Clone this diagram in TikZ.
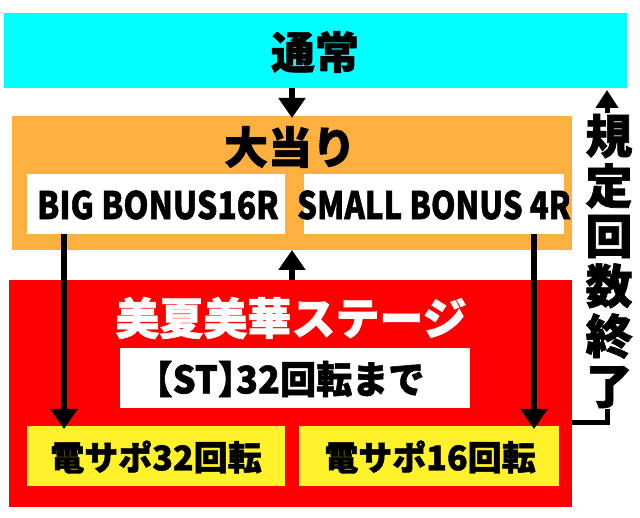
\documentclass[tikz,border=0pt]{standalone}
\usepackage{fontspec}
\setmainfont{Noto Sans CJK JP}[BoldFeatures={FakeBold=1.4}]
\usetikzlibrary{arrows.meta,calc}
\definecolor{cyanbox}{HTML}{00FFFF}
\definecolor{orangebox}{HTML}{FBB040}
\definecolor{redbox}{HTML}{FF0000}
\definecolor{yellowbox}{HTML}{FFF22A}
\newcommand{\hsq}[2]{\scalebox{#1}[1]{#2}}
\begin{document}
\begin{tikzpicture}[x=1pt,y=-1pt,
  box/.style={rectangle,inner sep=0pt,outer sep=0pt,draw=none},
  arr/.style={line width=5.5pt,-{Triangle[width=26pt,length=20pt]}},
  big/.style={font=\fontsize{44}{46}\selectfont\bfseries},
  mid/.style={font=\fontsize{38}{40}\selectfont\bfseries},
  lat/.style={font=\fontsize{38}{40}\selectfont\bfseries},
  small/.style={font=\fontsize{34}{36}\selectfont\bfseries}]
\useasboundingbox (0,0) rectangle (640,518);
\fill[white] (0,0) rectangle (640,518);
% boxes
\node[box,fill=cyanbox,minimum width=623pt,minimum height=75pt] (normal) at (315.5,50.5) {};
\node[big] (normalT) at (315,52) {通常};
\node[box,fill=orangebox,minimum width=560pt,minimum height=134pt] (jackpot) at (292,183) {};
\node[big] (jackpotT) at (290,147) {大当り};
\node[box,fill=white,minimum width=258pt,minimum height=60pt] (bigb) at (156,204) {};
\node[lat] (bigbT) at (158,205) {\hsq{0.84}{BIG BONUS16R}};
\node[box,fill=white,minimum width=260pt,minimum height=60pt] (smallb) at (434,204) {};
\node[lat] (smallbT) at (434,205) {\hsq{0.82}{SMALL BONUS 4R}};
\node[box,fill=redbox,minimum width=563pt,minimum height=227pt] (stage) at (290.5,393.5) {};
\node[big,text=white] (stageT) at (291,318) {美夏美華ステージ};
\node[box,fill=white,minimum width=350pt,minimum height=60pt] (st) at (295,378) {};
\node[mid] (stT) at (289.5,379) {\hsq{0.95}{\kern-0.5em【ST】\kern-0.5em 32回転まで}};
\node[box,fill=yellowbox,minimum width=258pt,minimum height=60pt] (ylw1) at (156,456) {};
\node[small] (ylw1T) at (156,457) {電サポ32回転};
\node[box,fill=yellowbox,minimum width=260pt,minimum height=60pt] (ylw2) at (429,456) {};
\node[small] (ylw2T) at (430,457) {電サポ16回転};
% connectors
\draw[arr] (jackpot.north |- normal.south) -- ([yshift=-2pt]jackpot.north);
\draw[arr] (jackpot.south |- stage.north) -- (jackpot.south);
\draw[arr] ([xshift=-92pt]bigb.south) -- ([xshift=-92pt,yshift=-3pt]ylw1.north);
\draw[arr] ([xshift=100pt]smallb.south) -- ([xshift=100pt,yshift=-3pt]smallb.south |- ylw2.north);
\coordinate (loopCorner) at (607,423);
\coordinate (loopTop) at (607,90);
\draw[line width=5pt,-{Triangle[width=22pt,length=18pt]}] (stage.east |- loopCorner) -- (loopCorner) -- (loopTop);
\node[fill=white,inner sep=1pt,align=center,font=\fontsize{47}{50}\selectfont\bfseries] (limitT) at (609,261) {規\\定\\回\\数\\終\\了};
\end{tikzpicture}
\end{document}
